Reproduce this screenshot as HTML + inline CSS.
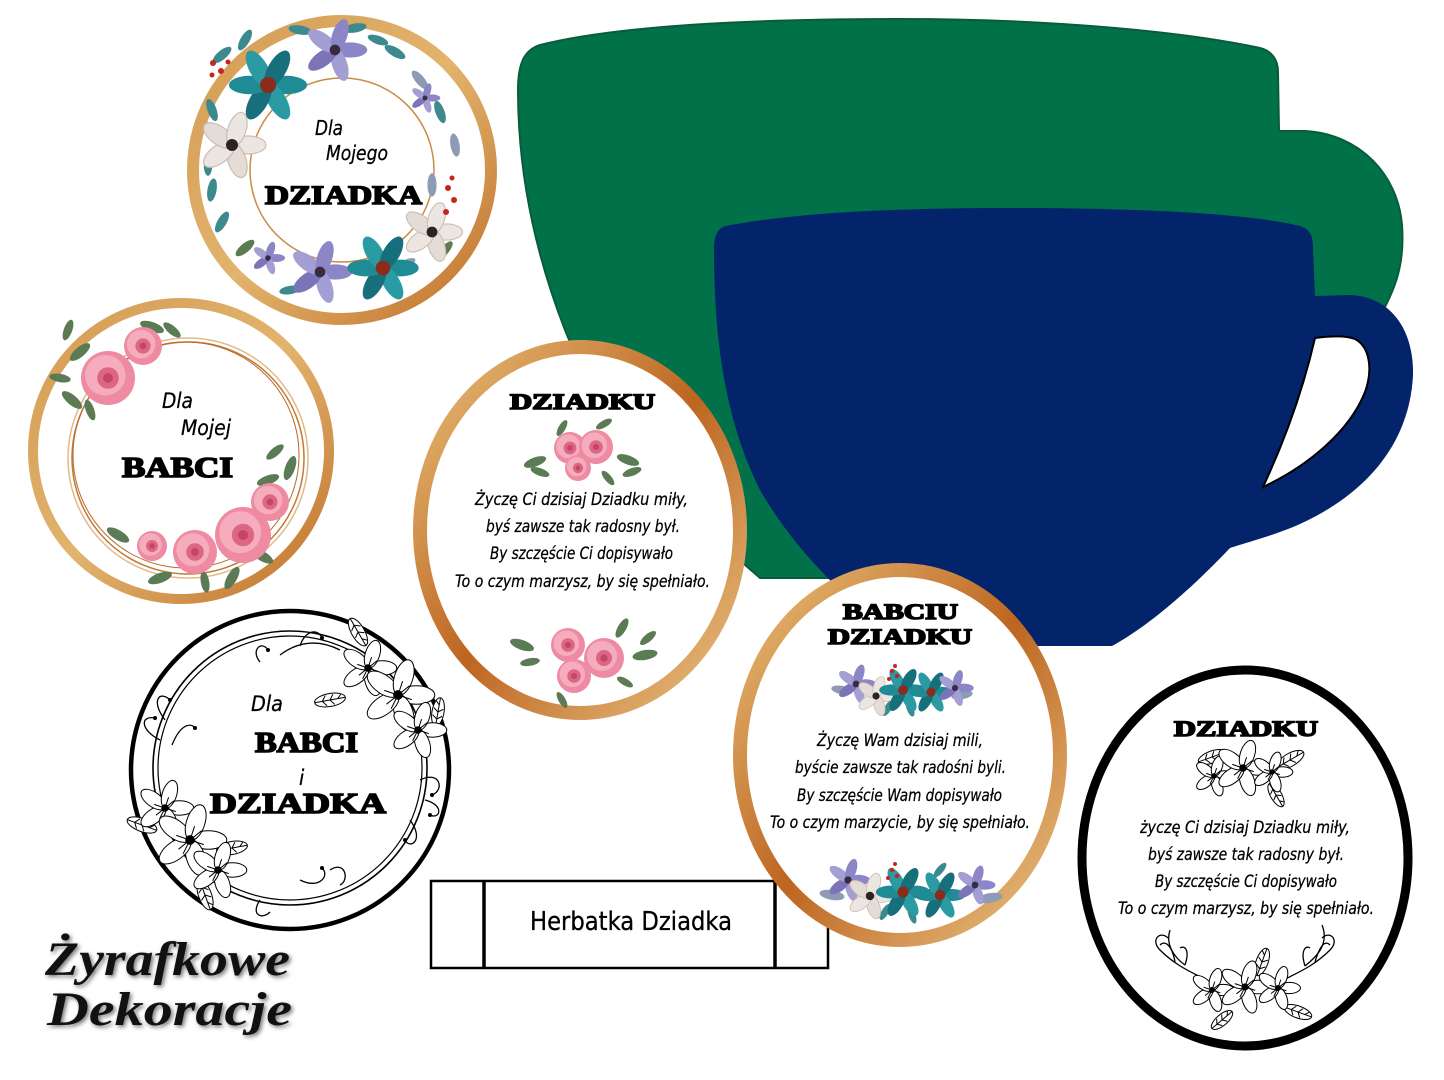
<!DOCTYPE html>
<html><head><meta charset="utf-8">
<style>
html,body{margin:0;padding:0;background:#fff;}
body{width:1444px;height:1080px;overflow:hidden;}
svg{display:block;}
.h{font-family:"Liberation Serif","DejaVu Serif",serif;font-weight:bold;fill:#000;stroke:#000;stroke-width:1.6;}
.c{font-family:"DejaVu Sans Condensed","Liberation Sans Narrow","Liberation Sans",sans-serif;font-style:italic;fill:#000;stroke:#000;stroke-width:0.25;}
.u{font-family:"DejaVu Sans Condensed","Liberation Sans Narrow","Liberation Sans",sans-serif;fill:#000;stroke:#000;stroke-width:0.3;}
.lg{font-family:"Liberation Serif","DejaVu Serif",serif;font-weight:bold;font-style:italic;}
</style></head><body>
<svg width="1444" height="1080" viewBox="0 0 1444 1080" xmlns="http://www.w3.org/2000/svg">
<defs>
 <linearGradient id="gold" x1="0" y1="0" x2="1" y2="1">
  <stop offset="0" stop-color="#e8c07a"/>
  <stop offset="0.5" stop-color="#bd6521"/>
  <stop offset="1" stop-color="#ebc585"/>
 </linearGradient>
 <linearGradient id="gold2" x1="0" y1="0" x2="1" y2="1">
  <stop offset="0" stop-color="#d39a52"/>
  <stop offset="0.5" stop-color="#e2b46e"/>
  <stop offset="1" stop-color="#c0702a"/>
 </linearGradient>
 <filter id="blur"><feGaussianBlur stdDeviation="2"/></filter>
 <g id="rose">
  <circle r="10" fill="#ee8aa2"/>
  <circle r="7.5" cx="-1" cy="-1" fill="#f5adbd"/>
  <circle r="4" fill="#dc6683"/>
  <circle r="1.8" fill="#c24666"/>
 </g>
 <g id="tealf">
  <ellipse cx="8" rx="9" ry="4" fill="#1e8b95"/>
  <ellipse cx="8" rx="9" ry="4" fill="#2a9ba3" transform="rotate(60)"/>
  <ellipse cx="8" rx="9" ry="4" fill="#176f7c" transform="rotate(120)"/>
  <ellipse cx="8" rx="9" ry="4" fill="#1e8b95" transform="rotate(180)"/>
  <ellipse cx="8" rx="9" ry="4" fill="#2a9ba3" transform="rotate(240)"/>
  <ellipse cx="8" rx="9" ry="4" fill="#176f7c" transform="rotate(300)"/>
  <circle r="3.5" fill="#8c2b1b"/>
 </g>
 <g id="purf">
  <ellipse cx="8" rx="9" ry="4" fill="#8c86c6"/>
  <ellipse cx="8" rx="9" ry="4" fill="#a39ed3" transform="rotate(72)"/>
  <ellipse cx="8" rx="9" ry="4" fill="#7b74b8" transform="rotate(144)"/>
  <ellipse cx="8" rx="9" ry="4" fill="#a39ed3" transform="rotate(216)"/>
  <ellipse cx="8" rx="9" ry="4" fill="#8c86c6" transform="rotate(288)"/>
  <circle r="2.8" fill="#3a2a40"/>
 </g>
 <g id="whitef">
  <ellipse cx="8" rx="9" ry="4.5" fill="#ece6e2" stroke="#cdbcae" stroke-width="0.6"/>
  <ellipse cx="8" rx="9" ry="4.5" fill="#e4dcd6" stroke="#cdbcae" stroke-width="0.6" transform="rotate(72)"/>
  <ellipse cx="8" rx="9" ry="4.5" fill="#ece6e2" stroke="#cdbcae" stroke-width="0.6" transform="rotate(144)"/>
  <ellipse cx="8" rx="9" ry="4.5" fill="#e4dcd6" stroke="#cdbcae" stroke-width="0.6" transform="rotate(216)"/>
  <ellipse cx="8" rx="9" ry="4.5" fill="#ece6e2" stroke="#cdbcae" stroke-width="0.6" transform="rotate(288)"/>
  <circle r="3" fill="#2d2420"/>
 </g>
 <ellipse id="leafg" rx="9" ry="3.5" fill="#5b7b55"/>
 <ellipse id="leaft" rx="9" ry="3.5" fill="#3c8a8e"/>
 <ellipse id="leafb" rx="9" ry="3.5" fill="#8e9bb5"/>
 <g id="lf" fill="#fff" stroke="#000" stroke-width="1">
  <ellipse cx="8" rx="8" ry="4" vector-effect="non-scaling-stroke"/>
  <ellipse cx="8" rx="8" ry="4" transform="rotate(72)" vector-effect="non-scaling-stroke"/>
  <ellipse cx="8" rx="8" ry="4" transform="rotate(144)" vector-effect="non-scaling-stroke"/>
  <ellipse cx="8" rx="8" ry="4" transform="rotate(216)" vector-effect="non-scaling-stroke"/>
  <ellipse cx="8" rx="8" ry="4" transform="rotate(288)" vector-effect="non-scaling-stroke"/>
  <path d="M0 0 L6 2 M0 0 L-3 6 M0 0 L-6 -2 M0 0 L2 -6 M0 0 L5 -4 M0 0 L-5 4" vector-effect="non-scaling-stroke"/>
  <circle r="1.6" fill="#000"/>
 </g>
 <g id="ll" fill="#fff" stroke="#000" stroke-width="1">
  <ellipse rx="12" ry="5" vector-effect="non-scaling-stroke"/>
  <path d="M-12 0 L12 0 M-6 0 L-3 -4 M0 0 L3 -4 M6 0 L9 -3 M-6 0 L-3 4 M0 0 L3 4" vector-effect="non-scaling-stroke"/>
 </g>
</defs>

<!-- GREEN CUP -->
<path d="M 540,45 C 620,25 760,19 900,19 C 1060,19 1190,33 1260,48 C 1272,51 1278,60 1278,72 L 1279,131 L 1305,131 C 1360,134 1398,175 1402,225 C 1405,265 1395,290 1378,320 L 1200,540 C 1150,560 1000,578 1000,578 L 760,578 C 680,510 600,420 565,330 C 530,240 518,160 518,90 C 518,62 525,50 540,45 Z" fill="#01714a" stroke="#0a5c39" stroke-width="2"/>

<!-- NAVY CUP -->
<path d="M 725,226 C 800,212 900,208 1010,208 C 1150,208 1250,214 1300,226 C 1310,229 1313,236 1313,248 L 1315,296 L 1350,295 C 1395,297 1414,335 1413,375 C 1410,440 1370,492 1300,524 C 1275,535 1255,540 1230,548 C 1190,590 1150,625 1112,646 L 905,646 C 860,610 800,560 760,490 C 725,420 714,340 714,250 C 714,236 717,229 725,226 Z" fill="#03246a"/>
<path d="M 1315,338 C 1330,336 1345,335 1355,339 C 1370,347 1373,370 1365,392 C 1350,430 1310,465 1263,487 C 1285,440 1303,390 1315,338 Z" fill="#fff" stroke="#000" stroke-width="2"/>

<!-- CIRCLE 1 : Dla Mojego DZIADKA -->
<circle cx="342" cy="170" r="149" fill="#fff" stroke="url(#gold2)" stroke-width="12"/>
<circle cx="342" cy="170" r="92" fill="none" stroke="#c98a45" stroke-width="1.5"/>
<g>
 <use href="#leaft" transform="translate(222,55) rotate(-40) scale(1.3)"/>
 <use href="#leaft" transform="translate(245,40) rotate(-60) scale(1.3)"/>
 <use href="#leaft" transform="translate(300,30) rotate(10) scale(1.3)"/>
 <use href="#leaft" transform="translate(395,52) rotate(30) scale(1.3)"/>
 <use href="#leafb" transform="translate(420,80) rotate(50) scale(1.3)"/>
 <use href="#leaft" transform="translate(440,112) rotate(70) scale(1.3)"/>
 <use href="#leafb" transform="translate(455,145) rotate(80) scale(1.3)"/>
 <use href="#leaft" transform="translate(212,190) rotate(100) scale(1.3)"/>
 <use href="#leaft" transform="translate(222,222) rotate(120) scale(1.3)"/>
 <use href="#leafg" transform="translate(245,248) rotate(140) scale(1.3)"/>
 <use href="#leafb" transform="translate(405,265) rotate(-30) scale(1.3)"/>
 <use href="#leaft" transform="translate(212,110) rotate(70) scale(1.3)"/>
 <use href="#leaft" transform="translate(355,28) rotate(-10) scale(1.3)"/>
 <use href="#leafb" transform="translate(432,185) rotate(90) scale(1.3)"/>
 <use href="#leaft" transform="translate(378,40) rotate(20) scale(1.2)"/>
 <use href="#leaft" transform="translate(208,165) rotate(90) scale(1.2)"/>
 <use href="#leafg" transform="translate(445,250) rotate(-50) scale(1.2)"/>
 <use href="#leaft" transform="translate(290,290) rotate(-10) scale(1.2)"/>
 <use href="#purf" transform="translate(335,50) scale(1.9)"/>
 <use href="#tealf" transform="translate(268,85) scale(2.3)"/>
 <use href="#whitef" transform="translate(232,145) scale(2)"/>
 <use href="#purf" transform="translate(425,98) scale(0.9)"/>
 <use href="#purf" transform="translate(268,258) scale(1)"/>
 <use href="#purf" transform="translate(320,272) scale(1.9)"/>
 <use href="#tealf" transform="translate(383,268) scale(2.1)"/>
 <use href="#whitef" transform="translate(432,232) scale(1.8)"/>
 <g fill="#c4261c">
  <circle cx="213" cy="63" r="3"/><circle cx="221" cy="71" r="3"/><circle cx="212" cy="75" r="2.5"/><circle cx="228" cy="62" r="2.5"/>
  <circle cx="448" cy="188" r="3"/><circle cx="454" cy="200" r="3"/><circle cx="446" cy="212" r="3"/><circle cx="452" cy="178" r="2.5"/>
 </g>
</g>
<text class="c" x="315" y="135" font-size="20" textLength="28" lengthAdjust="spacingAndGlyphs">Dla</text>
<text class="c" x="326" y="160" font-size="20" textLength="62" lengthAdjust="spacingAndGlyphs">Mojego</text>
<text class="h" x="265" y="204" font-size="26" textLength="157" lengthAdjust="spacingAndGlyphs">DZIADKA</text>

<!-- CIRCLE 2 : Dla Mojej BABCI -->
<circle cx="181" cy="451" r="148" fill="#fff" stroke="url(#gold2)" stroke-width="10"/>
<circle cx="188" cy="458" r="120" fill="none" stroke="#e1b98a" stroke-width="1.5"/>
<circle cx="188" cy="458" r="116" fill="none" stroke="#c27a35" stroke-width="1.5"/>
<circle cx="186" cy="455" r="113" fill="none" stroke="#b8682a" stroke-width="1"/>
<g>
 <use href="#leafg" transform="translate(80,352) rotate(-40) scale(1.4)"/>
 <use href="#leafg" transform="translate(68,330) rotate(-70) scale(1.2)"/>
 <use href="#leafg" transform="translate(152,327) rotate(20) scale(1.4)"/>
 <use href="#leafg" transform="translate(172,330) rotate(40) scale(1.2)"/>
 <use href="#leafg" transform="translate(72,400) rotate(40) scale(1.4)"/>
 <use href="#leafg" transform="translate(60,378) rotate(10) scale(1.2)"/>
 <use href="#leafg" transform="translate(90,410) rotate(70) scale(1.2)"/>
 <use href="#rose" transform="translate(108,378) scale(2.7)"/>
 <use href="#rose" transform="translate(143,346) scale(1.9)"/>
 <use href="#leafg" transform="translate(118,535) rotate(30) scale(1.4)"/>
 <use href="#leafg" transform="translate(232,578) rotate(-60) scale(1.4)"/>
 <use href="#leafg" transform="translate(290,468) rotate(-70) scale(1.4)"/>
 <use href="#leafg" transform="translate(275,452) rotate(-40) scale(1.2)"/>
 <use href="#leafg" transform="translate(205,582) rotate(80) scale(1.2)"/>
 <use href="#leafg" transform="translate(160,578) rotate(-20) scale(1.4)"/>
 <use href="#leafg" transform="translate(262,556) rotate(30) scale(1.4)"/>
 <use href="#leafg" transform="translate(268,480) rotate(-20) scale(1.3)"/>
 <use href="#rose" transform="translate(243,535) scale(2.8)"/>
 <use href="#rose" transform="translate(195,552) scale(2.2)"/>
 <use href="#rose" transform="translate(270,502) scale(1.9)"/>
 <use href="#rose" transform="translate(152,546) scale(1.5)"/>
</g>
<text class="c" x="162" y="408" font-size="21" textLength="31" lengthAdjust="spacingAndGlyphs">Dla</text>
<text class="c" x="181" y="435" font-size="21" textLength="50" lengthAdjust="spacingAndGlyphs">Mojej</text>
<text class="h" x="122" y="477" font-size="28" textLength="111" lengthAdjust="spacingAndGlyphs">BABCI</text>

<!-- BLACK CIRCLE : Dla BABCI i DZIADKA -->
<circle cx="290" cy="770" r="159" fill="#fff" stroke="#000" stroke-width="4.5"/>
<circle cx="290" cy="768" r="137" fill="none" stroke="#000" stroke-width="1.6"/>
<circle cx="290" cy="768" r="132" fill="none" stroke="#000" stroke-width="1.2"/>
<g fill="none" stroke="#000" stroke-width="1.3">
 <path d="M280 655 C 300 640 320 640 340 650 M300 646 C 305 630 318 628 322 638 M260 662 C 250 650 262 640 268 650"/>
 <path d="M165 720 C 150 700 160 690 170 700 M160 740 C 140 730 140 715 155 718 M172 745 C 180 725 190 722 195 728"/>
 <path d="M420 780 C 440 770 445 790 432 795 M425 800 C 445 805 440 820 430 815 M410 820 C 425 840 410 850 405 840"/>
 <path d="M300 880 C 320 890 330 875 322 868 M260 900 C 250 915 262 920 270 912 M330 870 C 345 860 350 880 340 885"/>
</g>
<g fill="#000">
 <circle cx="170" cy="700" r="2"/><circle cx="155" cy="718" r="2"/><circle cx="195" cy="728" r="2"/>
 <circle cx="322" cy="638" r="2"/><circle cx="268" cy="650" r="2"/><circle cx="432" cy="795" r="2"/>
 <circle cx="430" cy="815" r="2"/><circle cx="405" cy="840" r="2"/><circle cx="322" cy="868" r="2"/>
</g>
<use href="#ll" transform="translate(330,700) rotate(-10) scale(1.3)"/>
<use href="#ll" transform="translate(358,632) rotate(60) scale(1.3)"/>
<use href="#ll" transform="translate(438,712) rotate(-80) scale(1.2)"/>
<use href="#lf" transform="translate(368,668) scale(1.8)"/>
<use href="#lf" transform="translate(398,695) scale(2.3)"/>
<use href="#lf" transform="translate(418,730) scale(1.8)"/>
<use href="#ll" transform="translate(142,825) rotate(20) scale(1.3)"/>
<use href="#ll" transform="translate(232,848) rotate(-10) scale(1.3)"/>
<use href="#ll" transform="translate(205,895) rotate(70) scale(1.3)"/>
<use href="#lf" transform="translate(165,808) scale(1.8)"/>
<use href="#lf" transform="translate(190,840) scale(2.3)"/>
<use href="#lf" transform="translate(218,870) scale(1.8)"/>
<text class="c" x="251" y="711" font-size="21" textLength="32" lengthAdjust="spacingAndGlyphs">Dla</text>
<text class="h" x="255" y="752" font-size="28" textLength="103" lengthAdjust="spacingAndGlyphs">BABCI</text>
<text class="c" x="299" y="785" font-size="21">i</text>
<text class="h" x="210" y="813" font-size="28" textLength="176" lengthAdjust="spacingAndGlyphs">DZIADKA</text>

<!-- OVAL 1 : DZIADKU (gold) -->
<ellipse cx="580" cy="530" rx="160" ry="183" fill="#fff" stroke="url(#gold)" stroke-width="14"/>
<g>
 <use href="#leafg" transform="translate(535,462) rotate(-20) scale(1.3)"/>
 <use href="#leafg" transform="translate(540,472) rotate(20) scale(1.1)"/>
 <use href="#leafg" transform="translate(628,460) rotate(20) scale(1.3)"/>
 <use href="#leafg" transform="translate(632,472) rotate(-20) scale(1.1)"/>
 <use href="#leafg" transform="translate(562,428) rotate(-60)"/>
 <use href="#leafg" transform="translate(604,424) rotate(-30)"/>
 <use href="#leafg" transform="translate(608,478) rotate(50)"/>
 <use href="#rose" transform="translate(570,448) scale(1.6)"/>
 <use href="#rose" transform="translate(596,447) scale(1.7)"/>
 <use href="#rose" transform="translate(578,468) scale(1.3)"/>
</g>
<g>
 <use href="#leafg" transform="translate(522,645) rotate(20) scale(1.4)"/>
 <use href="#leafg" transform="translate(530,662) rotate(-10) scale(1.1)"/>
 <use href="#leafg" transform="translate(645,655) rotate(-10) scale(1.4)"/>
 <use href="#leafg" transform="translate(648,638) rotate(-40) scale(1.1)"/>
 <use href="#leafg" transform="translate(622,628) rotate(-60) scale(1.2)"/>
 <use href="#leafg" transform="translate(625,682) rotate(30)"/>
 <use href="#leafg" transform="translate(562,700) rotate(60)"/>
 <use href="#rose" transform="translate(568,645) scale(1.7)"/>
 <use href="#rose" transform="translate(604,658) scale(2)"/>
 <use href="#rose" transform="translate(574,676) scale(1.7)"/>
</g>
<text class="h" x="510" y="409" font-size="22" textLength="145" lengthAdjust="spacingAndGlyphs">DZIADKU</text>
<text class="c" x="475" y="505" font-size="17" textLength="213" lengthAdjust="spacingAndGlyphs">Życzę Ci dzisiaj Dziadku miły,</text>
<text class="c" x="486" y="532" font-size="17" textLength="194" lengthAdjust="spacingAndGlyphs">byś zawsze tak radosny był.</text>
<text class="c" x="490" y="559" font-size="17" textLength="183" lengthAdjust="spacingAndGlyphs">By szczęście Ci dopisywało</text>
<text class="c" x="455" y="587" font-size="17" textLength="255" lengthAdjust="spacingAndGlyphs">To o czym marzysz, by się spełniało.</text>

<!-- TEA TAG -->
<rect x="431" y="881" width="397" height="87" fill="#fff" stroke="#000" stroke-width="2.5"/>
<line x1="484" y1="881" x2="484" y2="968" stroke="#000" stroke-width="3.5"/>
<line x1="775" y1="881" x2="775" y2="968" stroke="#000" stroke-width="3.5"/>
<text class="u" x="530" y="930" font-size="26" textLength="202" lengthAdjust="spacingAndGlyphs">Herbatka Dziadka</text>

<!-- OVAL 2 : BABCIU DZIADKU -->
<ellipse cx="900" cy="755" rx="160" ry="185" fill="#fff" stroke="url(#gold)" stroke-width="14"/>
<g>
 <use href="#leafb" transform="translate(842,690) rotate(10) scale(1.2)"/>
 <use href="#leafb" transform="translate(962,695) rotate(-10) scale(1.2)"/>
 <use href="#leaft" transform="translate(910,708) rotate(70)"/>
 <use href="#leaft" transform="translate(888,708) rotate(-60)"/>
 <use href="#purf" transform="translate(856,684) scale(1.2)"/>
 <use href="#whitef" transform="translate(876,696) scale(1.2)"/>
 <use href="#tealf" transform="translate(903,690) scale(1.4)"/>
 <use href="#tealf" transform="translate(931,692) scale(1.3)"/>
 <use href="#purf" transform="translate(955,688) scale(1.1)"/>
 <g fill="#c4261c"><circle cx="892" cy="671" r="2.2"/><circle cx="897" cy="676" r="2.2"/><circle cx="889" cy="679" r="2"/><circle cx="895" cy="666" r="2"/></g>
</g>
<g>
 <use href="#leafb" transform="translate(832,895) rotate(10) scale(1.4)"/>
 <use href="#leafb" transform="translate(990,898) rotate(-10) scale(1.4)"/>
 <use href="#leaft" transform="translate(912,915) rotate(70)"/>
 <use href="#leaft" transform="translate(885,912) rotate(-60)"/>
 <use href="#leaft" transform="translate(940,870) rotate(-50)"/>
 <use href="#purf" transform="translate(848,880) scale(1.3)"/>
 <use href="#whitef" transform="translate(870,896) scale(1.4)"/>
 <use href="#tealf" transform="translate(903,892) scale(1.6)"/>
 <use href="#tealf" transform="translate(940,895) scale(1.5)"/>
 <use href="#purf" transform="translate(975,885) scale(1.2)"/>
 <g fill="#c4261c"><circle cx="892" cy="870" r="2.2"/><circle cx="897" cy="876" r="2.2"/><circle cx="888" cy="878" r="2"/><circle cx="895" cy="864" r="2"/></g>
</g>
<text class="h" x="843" y="619" font-size="22" textLength="115" lengthAdjust="spacingAndGlyphs">BABCIU</text>
<text class="h" x="828" y="644" font-size="22" textLength="144" lengthAdjust="spacingAndGlyphs">DZIADKU</text>
<text class="c" x="817" y="746" font-size="17" textLength="166" lengthAdjust="spacingAndGlyphs">Życzę Wam dzisiaj mili,</text>
<text class="c" x="795" y="773" font-size="17" textLength="211" lengthAdjust="spacingAndGlyphs">byście zawsze tak radośni byli.</text>
<text class="c" x="797" y="801" font-size="17" textLength="205" lengthAdjust="spacingAndGlyphs">By szczęście Wam dopisywało</text>
<text class="c" x="770" y="828" font-size="17" textLength="260" lengthAdjust="spacingAndGlyphs">To o czym marzycie, by się spełniało.</text>

<!-- OVAL 3 : black DZIADKU -->
<ellipse cx="1245" cy="858" rx="163" ry="188" fill="#fff" stroke="#000" stroke-width="9"/>
<use href="#ll" transform="translate(1212,757) rotate(-20) scale(1.2)"/>
<use href="#ll" transform="translate(1290,760) rotate(-30) scale(1.3)"/>
<use href="#ll" transform="translate(1276,795) rotate(60) scale(1.1)"/>
<use href="#lf" transform="translate(1214,776) scale(1.3)"/>
<use href="#lf" transform="translate(1243,768) scale(1.8)"/>
<use href="#lf" transform="translate(1272,772) scale(1.3)"/>
<g fill="none" stroke="#000" stroke-width="1.3">
 <path d="M1160 950 C 1180 970 1200 975 1215 985 M1160 950 C 1150 940 1160 930 1168 938 M1175 962 C 1172 945 1165 940 1160 945 M1185 965 C 1190 950 1185 945 1180 948"/>
 <path d="M1330 950 C 1310 970 1290 975 1275 985 M1330 950 C 1340 940 1330 930 1322 938 M1315 962 C 1320 945 1325 940 1330 945 M1305 966 C 1300 950 1306 945 1310 948"/>
 <path d="M1170 930 C 1165 945 1175 958 1185 965 M1322 925 C 1330 945 1315 958 1305 966"/>
</g>
<use href="#ll" transform="translate(1222,1020) rotate(-40) scale(1.1)"/>
<use href="#ll" transform="translate(1262,962) rotate(-70) scale(1.2)"/>
<use href="#ll" transform="translate(1298,1012) rotate(20) scale(1.2)"/>
<use href="#lf" transform="translate(1212,990) scale(1.4)"/>
<use href="#lf" transform="translate(1245,987) scale(1.7)"/>
<use href="#lf" transform="translate(1278,988) scale(1.4)"/>
<text class="h" x="1174" y="736" font-size="22" textLength="144" lengthAdjust="spacingAndGlyphs">DZIADKU</text>
<text class="c" x="1140" y="833" font-size="17" textLength="210" lengthAdjust="spacingAndGlyphs">życzę Ci dzisiaj Dziadku miły,</text>
<text class="c" x="1148" y="860" font-size="17" textLength="196" lengthAdjust="spacingAndGlyphs">byś zawsze tak radosny był.</text>
<text class="c" x="1155" y="887" font-size="17" textLength="182" lengthAdjust="spacingAndGlyphs">By szczęście Ci dopisywało</text>
<text class="c" x="1118" y="914" font-size="17" textLength="256" lengthAdjust="spacingAndGlyphs">To o czym marzysz, by się spełniało.</text>

<!-- LOGO -->
<g filter="url(#blur)" fill="#777">
 <text class="lg" x="47" y="977" font-size="48" textLength="245" lengthAdjust="spacingAndGlyphs">Żyrafkowe</text>
 <text class="lg" x="49" y="1027" font-size="48" textLength="245" lengthAdjust="spacingAndGlyphs">Dekoracje</text>
</g>
<text class="lg" x="45" y="975" font-size="48" fill="#111" textLength="245" lengthAdjust="spacingAndGlyphs">Żyrafkowe</text>
<text class="lg" x="47" y="1025" font-size="48" fill="#111" textLength="245" lengthAdjust="spacingAndGlyphs">Dekoracje</text>
</svg>
</body></html>
